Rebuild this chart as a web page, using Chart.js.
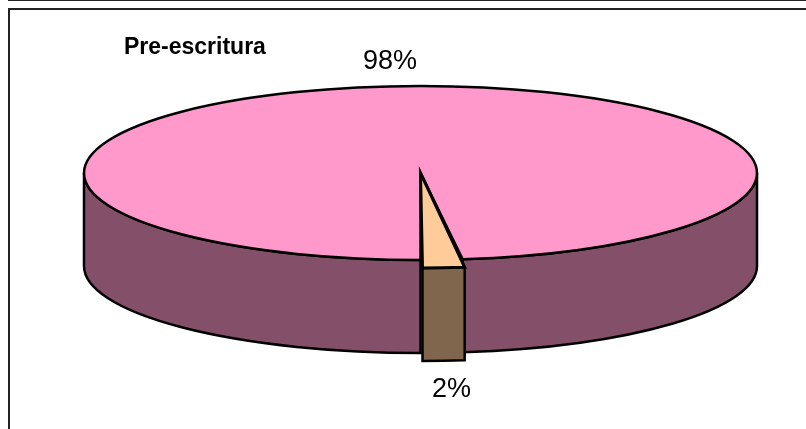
<!DOCTYPE html>
<html>
<head>
<meta charset="utf-8">
<style>html,body{margin:0;padding:0;background:#fff}canvas{display:block}</style>
<script src="https://cdn.jsdelivr.net/npm/chart.js@4"></script>
</head>
<body>
<canvas id="c" width="806" height="429"></canvas>
<script>
const categories = ['A', 'B'];
const values = [98, 2];
const percentLabels = ['98%', '2%'];
const topColors = ['#FF99CC', '#FFCC99'];
const sideColors = ['#845069', '#80664D'];
const chartTitle = 'Pre-escritura';

// Projection of the round pie on the tilted disc
const CX = 420.5, CY = 173, RX = 336.5, RY = 87, DEPTH = 93;
const EXPLODE_X = 2, EXPLODE_Y = 8;
const LABEL_POS = [[390, 62], [451.5, 390]];

const pie3d = {
  id: 'pie3d',
  beforeDraw(chart) {
    const c = chart.ctx;
    c.save();
    c.fillStyle = '#fff';
    c.fillRect(0, 0, chart.width, chart.height);
    c.strokeStyle = '#222';
    c.lineWidth = 2;
    c.beginPath();
    c.moveTo(8, 0); c.lineTo(806, 0);
    c.moveTo(9, 429); c.lineTo(9, 9); c.lineTo(806, 9);
    c.stroke();
    c.restore();
  },
  beforeDatasetDraw(chart, args) {
    const c = chart.ctx;
    const arcs = args.meta.data;
    const main = arcs[0], wedge = arcs[1];
    const R = main.outerRadius;
    const ex = a => Math.cos(a) * RX, ey = a => Math.sin(a) * RY;
    c.save();
    c.lineJoin = 'miter';
    c.miterLimit = 6;
    c.lineWidth = 2.5;
    c.strokeStyle = '#000';

    // side wall of a slice, between two angles, with a given centre
    const wall = (a0, a1, ox, oy, color) => {
      c.beginPath();
      c.ellipse(CX + ox, CY + oy, RX, RY, 0, a0, a1);
      c.lineTo(CX + ox + ex(a1), CY + oy + ey(a1) + DEPTH);
      c.ellipse(CX + ox, CY + oy + DEPTH, RX, RY, 0, a1, a0, true);
      c.closePath();
      c.fillStyle = color;
      c.fill();
      c.stroke();
    };
    const wrap = a => { const t = Math.PI * 2; return ((a % t) + t) % t; };
    // main slice: front-right part (0 .. wedge start), front-left part (main start .. PI)
    wall(0, wrap(wedge.startAngle), 0, 0, sideColors[0]);
    wall(wrap(main.startAngle), Math.PI, 0, 0, sideColors[0]);

    // main top face, drawn by the library's arc element through the projection
    c.save();
    c.translate(CX, CY);
    c.scale(RX / R, RY / R);
    c.translate(-main.x, -main.y);
    const saved = main.options.borderWidth;
    main.options.borderWidth = 0;
    main.draw(c);
    main.options.borderWidth = saved;
    c.restore();
    c.beginPath();
    c.moveTo(CX, CY);
    c.ellipse(CX, CY, RX, RY, 0, main.startAngle, main.endAngle);
    c.closePath();
    c.stroke();

    // wedge: side wall then top face, pulled out of the pie
    const a0 = wedge.startAngle, a1 = wedge.endAngle;
    wall(a0, a1, EXPLODE_X, EXPLODE_Y, sideColors[1]);
    c.beginPath();
    c.moveTo(CX, CY);
    c.lineTo(CX + EXPLODE_X + ex(a0), CY + EXPLODE_Y + ey(a0));
    c.ellipse(CX + EXPLODE_X, CY + EXPLODE_Y, RX, RY, 0, a0, a1);
    c.closePath();
    c.fillStyle = topColors[1];
    c.fill();
    c.lineWidth = 3;
    c.stroke();
    c.restore();
    return false;
  },
  afterDatasetsDraw(chart) {
    const c = chart.ctx;
    c.save();
    c.fillStyle = '#000';
    c.font = '27px "Liberation Sans", Arial, sans-serif';
    c.textAlign = 'center';
    c.textBaseline = 'middle';
    percentLabels.forEach((t, i) => c.fillText(t, LABEL_POS[i][0], LABEL_POS[i][1]));
    c.restore();
  }
};

new Chart(document.getElementById('c'), {
  type: 'pie',
  data: {
    labels: categories,
    datasets: [{ data: values, backgroundColor: topColors, borderWidth: 0 }]
  },
  options: {
    responsive: false,
    animation: false,
    rotation: 180,
    layout: { padding: { left: 124 } },
    plugins: {
      legend: { display: false },
      tooltip: { enabled: false },
      title: {
        display: true,
        text: chartTitle,
        align: 'start',
        color: '#000',
        font: { family: '"Liberation Sans", Arial, sans-serif', size: 23, weight: 'bold' },
        padding: { top: 34, bottom: 4 }
      }
    }
  },
  plugins: [pie3d]
});
</script>
</body>
</html>
